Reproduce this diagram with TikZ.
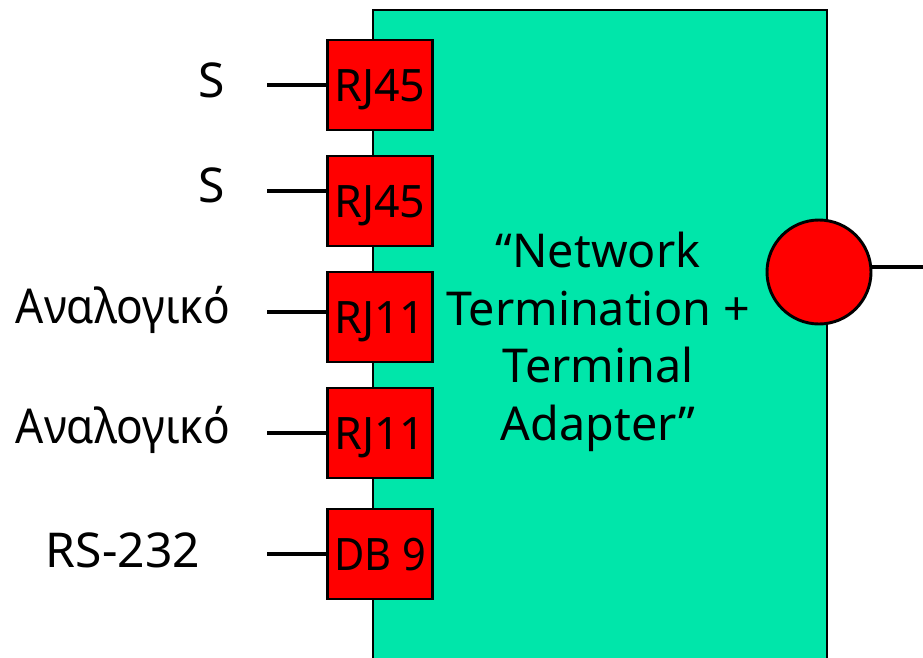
\documentclass[tikz,border=0pt]{standalone}
\usepackage{fontspec}
\setmainfont{Noto Sans}
\definecolor{tealgreen}{RGB}{0,230,170}
\newcommand{\portlabel}[1]{\raisebox{-12.5pt}[0pt][0pt]{#1}}
\newcommand{\narrowed}[1]{\scalebox{0.92}[1]{#1}}
\tikzset{
  port/.style={draw=black,line width=2.2pt,fill=red,minimum width=78.5pt,minimum height=67.5pt,inner sep=0pt,font=\fontsize{33.5}{33.5}\selectfont,text=black},
  lbl/.style={font=\fontsize{36}{36}\selectfont,inner sep=0pt,text=black},
  wire/.style={draw=black,line width=2.4pt}
}
\begin{document}
\begin{tikzpicture}[x=0.75pt,y=-0.75pt]
\useasboundingbox (0,0) rectangle (923,657);
\path[draw=black,line width=2.2pt,fill=tealgreen] (373,675) -- (373,10) -- (827,10) -- (827,675);
\node[lbl,align=center,font=\fontsize{35}{43.2}\selectfont] (title) at (598,342) {“Network\\Termination +\\Terminal\\Adapter”};
\node[port] (p1) at (380,85) {\portlabel{RJ45}};
\node[port] (p2) at (380,201) {\portlabel{RJ45}};
\node[port] (p3) at (380,317) {\portlabel{RJ11}};
\node[port] (p4) at (380,433) {\portlabel{RJ11}};
\node[port] (p5) at (380,554) {\portlabel{\scalebox{0.93}[1]{DB 9}}};
\node[lbl] (l1) at (212,80) {S};
\node[lbl] (l2) at (212,185) {S};
\node[lbl] (l3) at (123,310) {\narrowed{Αναλογικό}};
\node[lbl] (l4) at (123,430) {\narrowed{Αναλογικό}};
\node[lbl] (l5) at (123,550) {RS-232};
\coordinate (c1) at (267,85);
\coordinate (c2) at (267,191);
\coordinate (c3) at (267,312);
\coordinate (c4) at (267,433);
\coordinate (c5) at (267,554);
\draw[wire] (c1) -- (p1.west |- c1);
\draw[wire] (c2) -- (p2.west |- c2);
\draw[wire] (c3) -- (p3.west |- c3);
\draw[wire] (c4) -- (p4.west |- c4);
\draw[wire] (c5) -- (p5.west |- c5);
\node[circle,draw=black,line width=2.2pt,fill=red,minimum size=78pt,inner sep=0pt] (pw) at (819,272) {};
\coordinate (e) at (923,267);
\draw[wire] (pw.east |- e) -- (e);
\end{tikzpicture}
\end{document}
